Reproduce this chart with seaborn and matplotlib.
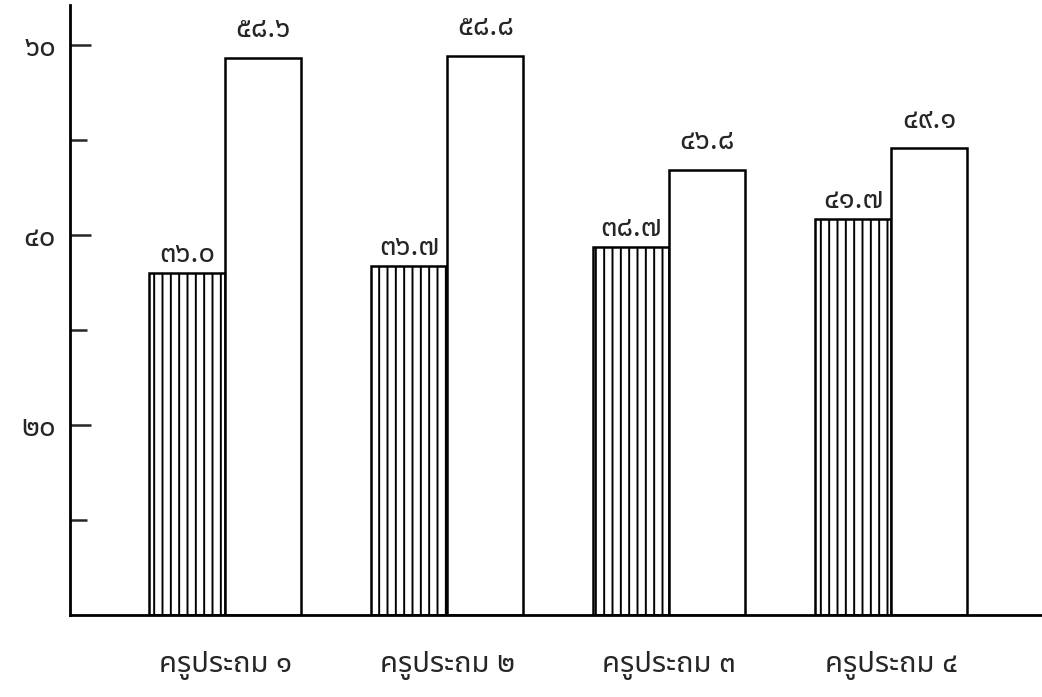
import matplotlib
matplotlib.use("Agg")
import matplotlib.pyplot as plt
from matplotlib import font_manager
from matplotlib.ft2font import FT2Font
from matplotlib.ticker import FixedLocator
import seaborn as sns
import pandas as pd

# ---- data ----
groups = ["ครูประถม ๑", "ครูประถม ๒", "ครูประถม ๓", "ครูประถม ๔"]
series = ["ก่อน", "หลัง"]
values_hatched = [36.0, 36.7, 38.7, 41.7]
values_white = [58.6, 58.8, 46.8, 49.1]
labels_hatched = ["๓๖.๐", "๓๖.๗", "๓๘.๗", "๔๑.๗"]
labels_white = ["๕๘.๖", "๕๘.๘", "๔๖.๘", "๔๙.๑"]
ytick_major = [20, 40, 60]
ytick_major_labels = ["๒๐", "๔๐", "๖๐"]
ytick_minor = [10, 30, 50]


def find_thai_font():
    preferred = ["Noto Sans Thai", "Noto Sans Thai UI", "Loma", "Garuda", "Norasi",
                 "Sawasdee", "Tlwg Typo", "Kinnari", "Waree", "Umpush", "Purisa"]
    found = {}
    for f in font_manager.fontManager.ttflist:
        try:
            ft = FT2Font(f.fname)
            if ft.get_char_index(0x0E04) and ft.get_char_index(0x0E51):
                found.setdefault(f.name, f.fname)
        except Exception:
            pass
    for p in preferred:
        if p in found:
            return p
    return next(iter(found), None)


df = pd.DataFrame({
    "group": groups * 2,
    "series": [series[0]] * 4 + [series[1]] * 4,
    "value": values_hatched + values_white,
})

sns.set_style("white")
thai = find_thai_font()
fams = ([thai] if thai else []) + ["DejaVu Sans"]
plt.rcParams["font.family"] = fams
plt.rcParams["hatch.linewidth"] = 1.4
plt.rcParams["hatch.color"] = "black"

fig = plt.figure(figsize=(10.42, 6.97), dpi=100)
ax = fig.add_axes([70 / 1042, 82 / 697, 1 - 70 / 1042, (697 - 82 - 5) / 697])

sns.barplot(data=df, x="group", y="value", hue="series",
            palette=["white", "white"], edgecolor="black", linewidth=1.8,
            width=0.685, dodge=True, legend=False, errorbar=None, ax=ax)

for bar in ax.containers[0]:
    bar.set_hatch("||")

ax.bar_label(ax.containers[0], labels=labels_hatched, padding=3, fontsize=21,
             fontweight="bold")
ax.bar_label(ax.containers[1], labels=labels_white, padding=10, fontsize=21,
             fontweight="bold")

ax.set_ylim(0, 64.2)
ax.set_xlim(-0.70, 3.68)
ax.yaxis.set_major_locator(FixedLocator(ytick_major))
ax.set_yticklabels(ytick_major_labels, fontsize=21, fontweight="bold")
ax.yaxis.set_minor_locator(FixedLocator(ytick_minor))
ax.tick_params(axis="y", which="major", direction="in", length=15, width=1.8,
               pad=10, left=True)
ax.tick_params(axis="y", which="minor", direction="in", length=12, width=1.8,
               left=True)
ax.tick_params(axis="x", length=0, pad=26, labelsize=21)
ax.set_xlabel("")
ax.set_ylabel("")
for s in ["top", "right"]:
    ax.spines[s].set_visible(False)
for s in ["left", "bottom"]:
    ax.spines[s].set_linewidth(2)
    ax.spines[s].set_color("black")

fig.savefig("out.png", dpi=100)
